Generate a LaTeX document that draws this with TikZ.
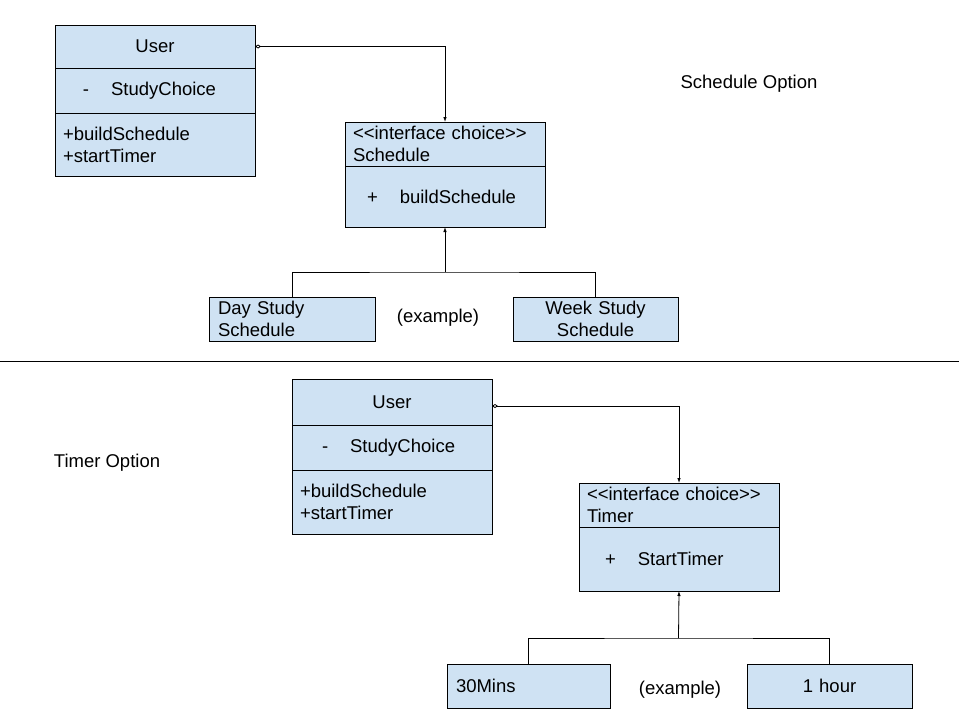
\documentclass[tikz,border=0pt]{standalone}
\usepackage{fontspec}
\setmainfont{Liberation Sans}
\usepackage{xcolor}
\usetikzlibrary{arrows.meta, positioning}
\definecolor{umlblue}{RGB}{207,226,243}

\begin{document}
\begin{tikzpicture}[x=1pt, y=-1pt,
    font=\fontsize{18.5}{22}\selectfont,
    part/.style={draw, fill=umlblue, line width=0.8pt, outer sep=0pt, inner xsep=8pt, inner ysep=0pt, text width=184pt},
    leftpart/.style={part, align=left},
    midpart/.style={part, align=center},
    leaf/.style={draw, fill=umlblue, line width=0.8pt, outer sep=0pt, inner xsep=9pt, inner ysep=0pt, minimum height=44pt},
    link/.style={line width=0.8pt},
    owns/.style={link, {Diamond[open, length=6pt, width=4pt]}-{Latex[length=5pt, width=3.5pt]}},
    extends/.style={link, -{Latex[length=5pt, width=3.5pt]}}
]
    \useasboundingbox (0,0) rectangle (959,715);

    % Schedule option
    \node[midpart, anchor=north west, minimum height=43pt] (user1) at (55,25) {User};
    \node[leftpart, below=0pt of user1, minimum height=45pt] (user2) {\hspace{20pt}-\hspace{22pt}StudyChoice};
    \node[leftpart, below=0pt of user2, minimum height=63pt] (user3) {+buildSchedule\\+startTimer};

    \node[leftpart, anchor=north west, minimum height=44pt] (sched1) at (345,122) {<\kern0pt<interface choice>\kern0pt>\\Schedule};
    \node[leftpart, below=0pt of sched1, minimum height=61pt] (sched2) {\hspace{14pt}+\hspace{22pt}buildSchedule};

    \node[leaf, anchor=north west, text width=148pt, align=left] (dayleaf) at (209,297) {Day Study\\Schedule};
    \node[leaf, anchor=north west, text width=147pt, align=center] (weekleaf) at (513,297) {Week Study\\Schedule};
    \node (schedex) at (438,318) {(example)};
    \node (schedopt) at (749,84) {Schedule Option};

    \draw[owns] (user1.east) -| (sched1.north);
    \coordinate (schedfork) at (445,272);
    \draw[extends] (schedfork) -- (sched2.south);
    \draw[link] (dayleaf.north) |- (schedfork) -| (weekleaf.north);

    % separator
    \coordinate (sepL) at (0,361);
    \coordinate (sepR) at (959,361);
    \draw[link] (sepL) -- (sepR);

    % Timer option
    \node[midpart, anchor=north west, minimum height=46pt] (tuser1) at (292,379) {User};
    \node[leftpart, below=0pt of tuser1, minimum height=45pt] (tuser2) {\hspace{22pt}-\hspace{22pt}StudyChoice};
    \node[leftpart, below=0pt of tuser2, minimum height=64pt] (tuser3) {+buildSchedule\\+startTimer};

    \node[leftpart, anchor=north west, minimum height=44pt] (timer1) at (579,483) {<\kern0pt<interface choice>\kern0pt>\\Timer};
    \node[leftpart, below=0pt of timer1, minimum height=64pt] (timer2) {\hspace{18pt}+\hspace{22pt}StartTimer};

    \node[leaf, anchor=north west, text width=145pt, align=left] (halfleaf) at (447,664) {30Mins};
    \node[leaf, anchor=north west, text width=147pt, align=center] (hourleaf) at (747,664) {1 hour};
    \node (timerex) at (680,690) {(example)};
    \node (timeropt) at (107,463) {Timer Option};

    \draw[owns] ([yshift=-4pt]tuser1.east) -| (timer1.north);
    \coordinate (timerfork) at (678.5,638);
    \draw[extends] (timerfork) -- (timer2.south);
    \draw[link] (halfleaf.north) |- (timerfork) -| (hourleaf.north);
\end{tikzpicture}
\end{document}
